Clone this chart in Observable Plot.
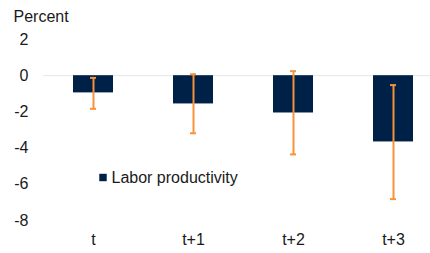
<!DOCTYPE html>
<html><head><meta charset="utf-8">
<script src="https://cdn.jsdelivr.net/npm/d3@7"></script>
<script src="https://cdn.jsdelivr.net/npm/@observablehq/plot@0.6"></script>
<style>body{margin:0;background:#fff;} svg{display:block;}</style>
</head><body><div id="chart"></div>
<script>
const periods = ["t", "t+1", "t+2", "t+3"];
const values = [-0.95, -1.56, -2.06, -3.66];
const errLow = [-1.83, -3.18, -4.35, -6.82];
const errHigh = [-0.12, 0.08, 0.25, -0.52];
const yTicks = [2, 0, -2, -4, -6, -8];
const seriesName = "Labor productivity";
const yTitle = "Percent";

const data = periods.map((p, i) => ({p, v: values[i], lo: errLow[i], hi: errHigh[i]}));
const font = "Liberation Sans, Arial, sans-serif";
const navy = "#002147";
const orange = "#F7923A";
const fs = 16;

const chart = Plot.plot({
  width: 430, height: 253,
  marginLeft: 43, marginRight: 0, marginTop: 39, marginBottom: 33,
  style: {fontFamily: font, fontSize: fs + "px", color: "#1a1a1a", background: "#fff"},
  x: {domain: periods, range: [43, 443], paddingInner: 0.6, paddingOuter: 0.3, label: null},
  y: {domain: [-8, 2], label: null},
  marks: [
    Plot.ruleY([0], {stroke: "#e6e6e6", strokeWidth: 1}),
    Plot.barY(data, {x: "p", y1: 0, y2: "v", fill: navy}),
    Plot.ruleX(data, {x: "p", y1: "lo", y2: "hi", stroke: orange, strokeWidth: 2}),
    Plot.tickY(data, {x: "p", y: "lo", stroke: orange, strokeWidth: 2, insetLeft: 17, insetRight: 17}),
    Plot.tickY(data, {x: "p", y: "hi", stroke: orange, strokeWidth: 2, insetLeft: 17, insetRight: 17}),
    Plot.axisY({ticks: yTicks, tickSize: 0, tickPadding: 15, tickFormat: d => String(d), fontSize: fs, label: null}),
    Plot.axisX({tickSize: 0, tickPadding: 13, fontSize: fs, label: null}),
    Plot.text([yTitle], {frameAnchor: "top-left", dx: -30, dy: -23, text: d => d, textAnchor: "start", lineAnchor: "middle", fontSize: fs, fill: "#1a1a1a"}),
    Plot.dot([seriesName], {frameAnchor: "top-left", dx: 59.5, dy: 138, symbol: "square", r: 4.2, fill: navy, stroke: null}),
    Plot.text([seriesName], {frameAnchor: "top-left", dx: 68, dy: 138.5, text: d => d, textAnchor: "start", lineAnchor: "middle", fontSize: fs, fill: "#1a1a1a"})
  ]
});
document.getElementById("chart").append(chart);
</script>
</body></html>
